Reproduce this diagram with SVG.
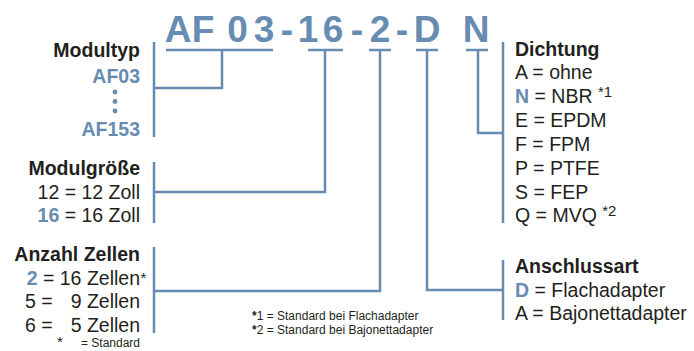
<svg xmlns="http://www.w3.org/2000/svg" width="694" height="351" viewBox="0 0 694 351">
<style>
text{font-family:"Liberation Sans",Arial,sans-serif;fill:#231f20}
.h{font-weight:bold;font-size:19.5px}
.r{font-size:19.5px}
.b{fill:#678cb1;font-weight:bold}
.t{font-size:37px;font-weight:bold;fill:#678cb1}
.s{font-size:12px}
.sup{font-size:15px}
.ln{stroke:#678cb1;stroke-width:2.5;fill:none}
</style>
<rect width="694" height="351" fill="#ffffff"/>
<g id="title">
<text class="t" text-anchor="middle" x="178 203 237.5 264 287 308 333 357 380 402 427 451 476" y="42">AF03-16-2-D N</text>
</g>
<g id="connectors" class="ln">
<path d="M166 50H273M222 50V88H154M154 42V137"/>
<path d="M308 50H343M325 50V192H154M154 162V223"/>
<path d="M369 50H391M380 50V291H154M154 247V333"/>
<path d="M416 50H438M427 50V290H503M503 260V320"/>
<path d="M466 50H488M478 50V133H503M503 42V223"/>
</g>
<g id="modultyp" text-anchor="end">
<text class="h" x="140" y="57">Modultyp</text>
<text class="h b" x="140" y="83">AF03</text>
<circle cx="115" cy="92" r="2.4" fill="#678cb1"/>
<circle cx="115" cy="101.5" r="2.4" fill="#678cb1"/>
<circle cx="115" cy="111" r="2.4" fill="#678cb1"/>
<text class="h b" x="140" y="136">AF153</text>
</g>
<g id="modulgroesse" text-anchor="end">
<text class="h" x="140" y="175">Modulgröße</text>
<text class="r" x="140" y="199">12 = 12 Zoll</text>
<text class="r" x="140" y="222"><tspan class="b">16</tspan> = 16 Zoll</text>
</g>
<g id="zellen">
<text class="h" x="140" y="261" text-anchor="end">Anzahl Zellen</text>
<text class="r" x="140" y="285" text-anchor="end"><tspan class="b">2</tspan> = 16 Zellen</text>
<text class="sup" x="140.5" y="283">*</text>
<text class="r" x="25" y="308">5 =</text>
<text class="r" x="140" y="308" text-anchor="end">9 Zellen</text>
<text class="r" x="25" y="332">6 =</text>
<text class="r" x="140" y="332" text-anchor="end">5 Zellen</text>
<text class="sup" x="57" y="347">*</text>
<text class="s" x="140" y="347" text-anchor="end">= Standard</text>
</g>
<g id="footnotes">
<text class="s" x="252" y="320"><tspan font-weight="bold">*</tspan>1 = Standard bei Flachadapter</text>
<text class="s" x="252" y="334"><tspan font-weight="bold">*</tspan>2 = Standard bei Bajonettadapter</text>
</g>
<g id="dichtung">
<text class="h" x="515" y="56">Dichtung</text>
<text class="r" x="515" y="79">A = ohne</text>
<text class="r" x="515" y="103"><tspan class="b">N</tspan> = NBR <tspan class="sup" dy="-6">*1</tspan></text>
<text class="r" x="515" y="127">E = EPDM</text>
<text class="r" x="515" y="151">F = FPM</text>
<text class="r" x="515" y="175">P = PTFE</text>
<text class="r" x="515" y="199">S = FEP</text>
<text class="r" x="515" y="222">Q = MVQ <tspan class="sup" dy="-6">*2</tspan></text>
</g>
<g id="anschlussart">
<text class="h" x="515" y="273">Anschlussart</text>
<text class="r" x="515" y="297"><tspan class="b">D</tspan> = Flachadapter</text>
<text class="r" x="515" y="320">A = Bajonettadapter</text>
</g>
</svg>
